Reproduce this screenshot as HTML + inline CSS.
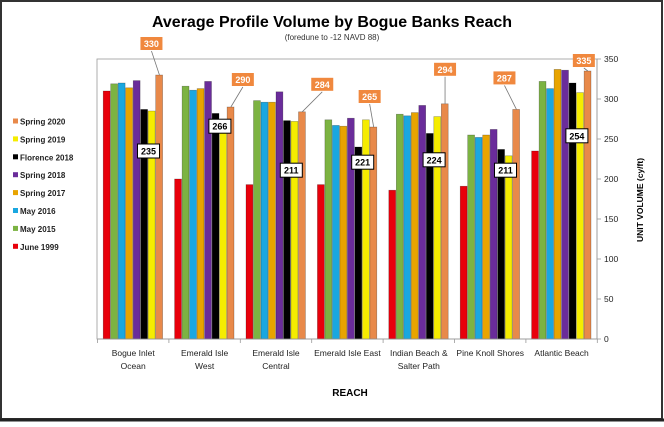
<!DOCTYPE html>
<html><head><meta charset="utf-8"><style>
body{margin:0;background:#fff;font-family:"Liberation Sans",sans-serif}
svg text{font-family:"Liberation Sans",sans-serif}
</style></head><body>
<svg id="c" width="664" height="422" xmlns="http://www.w3.org/2000/svg">
<rect x="1" y="1" width="661" height="418" fill="#fff" stroke="#333" stroke-width="2"/>
<line x1="0" y1="420" x2="664" y2="420" stroke="#222" stroke-width="3"/>
<text x="332" y="27" text-anchor="middle" font-size="16" font-weight="bold">Average Profile Volume by Bogue Banks Reach</text>
<text x="332" y="40" text-anchor="middle" font-size="8" fill="#333">(foredune to -12 NAVD 88)</text>
<rect x="97" y="59" width="500" height="280" fill="none" stroke="#999" stroke-width="0.8"/>
<g id="bars"></g><g id="axis"></g><g id="labels"></g><g id="legend"></g>
<text x="350" y="396" text-anchor="middle" font-size="10" font-weight="bold">REACH</text>
<text transform="translate(643,200) rotate(-90)" text-anchor="middle" font-size="8.5" font-weight="bold">UNIT  VOLUME (cy/ft)</text>
</svg>
<script>
const categories=[["Bogue Inlet","Ocean"],["Emerald Isle","West"],["Emerald Isle","Central"],["Emerald Isle East"],["Indian Beach &","Salter Path"],["Pine Knoll Shores"],["Atlantic Beach"]];
const seriesNames=["June 1999","May 2015","May 2016","Spring 2017","Spring 2018","Florence 2018","Spring 2019","Spring 2020"];
const june1999=[310,200,193,193,186,191,235];
const may2015=[319,316,298,274,281,255,322];
const may2016=[320,311,296,267,279,252,313];
const spring2017=[314,313,296,266,283,255,337];
const spring2018=[323,322,309,276,292,262,336];
const florence2018=[287,282,273,240,257,237,320];
const spring2019=[285,266,272,274,278,229,308];
const spring2020=[330,290,284,265,294,287,335];
const boxLabels=[235,266,211,221,224,211,254];
const yTicks=[0,50,100,150,200,250,300,350];
const colors=["#E8000B","#7CB342","#1AA7E0","#E8A400","#6A2C9A","#000000","#F5EC00","#E8894A"];
const series=[june1999,may2015,may2016,spring2017,spring2018,florence2018,spring2019,spring2020];
const NS="http://www.w3.org/2000/svg";
const X0=97.5,GW=71.4,Y0=339,YMAX=350,PH=280;
const y=v=>Y0-v/YMAX*PH;
const gx=i=>X0+i*GW;
function mk(t,a,p){const e=document.createElementNS(NS,t);for(const k in a)e.setAttribute(k,a[k]);p.appendChild(e);return e;}
const bars=document.getElementById('bars'),axis=document.getElementById('axis'),labels=document.getElementById('labels'),legend=document.getElementById('legend');
const BW=7.5,PAD=5.7;
series.forEach((s,si)=>{s.forEach((v,i)=>{
 const r=mk('rect',{x:gx(i)+PAD+si*BW,y:y(v),width:BW-0.6,height:Y0-y(v),fill:colors[si],stroke:"rgba(0,0,0,0.35)","stroke-width":0.6},bars);
 
 
});});
mk('line',{x1:X0,y1:Y0,x2:597,y2:Y0,stroke:"#999","stroke-width":0.8},axis);
for(let i=0;i<=7;i++){mk('line',{x1:gx(i),y1:Y0,x2:gx(i),y2:Y0+4,stroke:"#999","stroke-width":0.8},axis);}
categories.forEach((c,i)=>{c.forEach((ln,j)=>{
 const t=mk('text',{x:gx(i)+GW/2,y:356+j*13,"text-anchor":"middle","font-size":"8.5",fill:"#222"},axis);t.textContent=ln;
 
 
});});
yTicks.forEach(v=>{
 mk('line',{x1:597,y1:y(v),x2:601,y2:y(v),stroke:"#999","stroke-width":0.8},axis);
 const t=mk('text',{x:604,y:y(v)+3,"font-size":"8.5",fill:"#222"},axis);t.textContent=v;
 
 
});
mk('line',{x1:597,y1:59,x2:597,y2:Y0,stroke:"#999","stroke-width":0.8},axis);
const offs=[[-8,-24],[12,-20],[20,-20],[-4,-23],[0,-27],[-12,-24],[-4,-3]];
spring2020.forEach((v,i)=>{
 const bx=gx(i)+PAD+7*BW+BW/2,by=y(v);
 const lx=bx+offs[i][0],ly=by+offs[i][1];
 mk('polyline',{points:`${bx},${by} ${lx},${ly}`,fill:"none",stroke:"#777","stroke-width":0.8},labels);
 const g=mk('g',{},labels);
 
 
 mk('rect',{x:lx-11,y:ly-14,width:22,height:13,fill:"#F0883E"},g);
 const t=mk('text',{x:lx,y:ly-4,"text-anchor":"middle","font-size":"9","font-weight":"bold",fill:"#fff"},g);t.textContent=v;
});
boxLabels.forEach((v,i)=>{
 const cx=gx(i)+51,cy=y(v);
 const g=mk('g',{},labels);
 
 
 mk('rect',{x:cx-11,y:cy-7,width:22,height:14,fill:"#fff",stroke:"#000","stroke-width":1},g);
 const t=mk('text',{x:cx,y:cy+3.5,"text-anchor":"middle","font-size":"9","font-weight":"bold"},g);t.textContent=v;
});
seriesNames.slice().reverse().forEach((n,k)=>{
 const si=7-k,yy=122+k*17.9;
 const g=mk('g',{},legend);
 
 
 mk('rect',{x:13,y:yy-3.5,width:5,height:5,fill:colors[si]},g);
 const t=mk('text',{x:20,y:yy+2.5,"font-size":"8","font-weight":"bold",fill:"#222"},g);t.textContent=n;
});
</script>
</body></html>
